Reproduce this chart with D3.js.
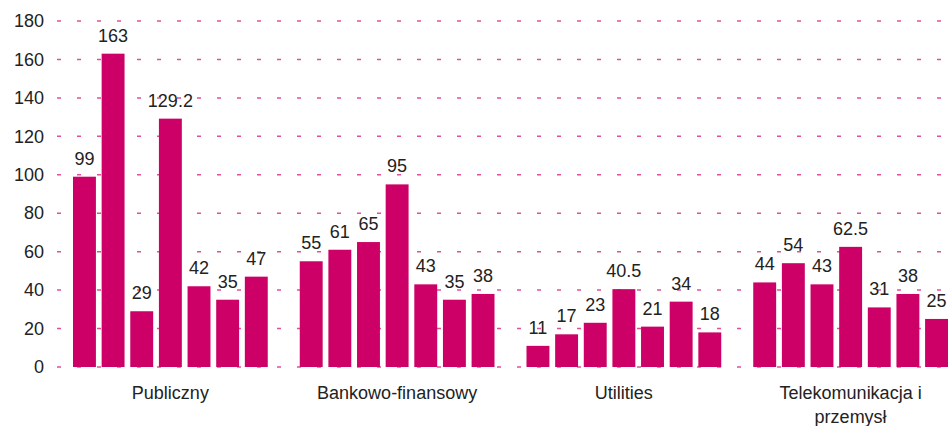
<!DOCTYPE html>
<html>
<head>
<meta charset="utf-8">
<script src="https://cdn.jsdelivr.net/npm/d3@7"></script>
<style>
  body { margin: 0; background: #fff; }
  text { font-family: "Liberation Sans", Arial, sans-serif; fill: #222; }
</style>
</head>
<body>
<div id="chart"></div>
<script>
// Categories and values
let groups = ["Publiczny", "Bankowo-finansowy", "Utilities", "Telekomunikacja i przemysł"];
let publiczny = [99, 163, 29, 129.2, 42, 35, 47];
let bankowo = [55, 61, 65, 95, 43, 35, 38];
let utilities = [11, 17, 23, 40.5, 21, 34, 18];
let telekom = [44, 54, 43, 62.5, 31, 38, 25];
let yTicks = [0, 20, 40, 60, 80, 100, 120, 140, 160, 180];

let seriesByGroup = [publiczny, bankowo, utilities, telekom];

let svgWidth = 951;
let svgHeight = 426;

let svg = d3.select("#chart")
    .append("svg")
    .attr("width", svgWidth)
    .attr("height", svgHeight);

// Scales
let x0 = d3.scaleBand()
    .domain(groups)
    .range([57, 964]);

let x1 = d3.scaleBand()
    .domain(d3.range(7))
    .range([16, x0.bandwidth() - 16])
    .paddingInner(0.2);

let y = d3.scaleLinear()
    .domain([0, 180])
    .range([367, 21]);

// Dashed gridlines
svg.append("g")
    .selectAll("line")
    .data(yTicks)
    .join("line")
    .attr("x1", 57)
    .attr("x2", svgWidth)
    .attr("y1", d => y(d))
    .attr("y2", d => y(d))
    .attr("stroke", "#e2509a")
    .attr("stroke-width", 1.5)
    .attr("stroke-dasharray", "4,16");

// Y axis labels
let leftAxis = d3.axisLeft(y).tickValues(yTicks).tickSize(0).tickPadding(0);
let yAxis = svg.append("g")
    .attr("transform", "translate(44,0)")
    .call(leftAxis);
yAxis.select(".domain").remove();
yAxis.selectAll("text")
    .style("font-family", "'Liberation Sans', Arial, sans-serif")
    .style("font-size", "18px")
    .attr("fill", "#222");

// Bars
let groupG = svg.append("g")
    .selectAll("g")
    .data(groups)
    .join("g")
    .attr("transform", d => `translate(${x0(d)},0)`);

groupG.selectAll("rect")
    .data((d, i) => seriesByGroup[i])
    .join("rect")
    .attr("x", (d, i) => x1(i))
    .attr("width", x1.bandwidth())
    .attr("y", d => y(d))
    .attr("height", d => y(0) - y(d))
    .attr("fill", "#cc0066");

// Value labels
groupG.selectAll("text.val")
    .data((d, i) => seriesByGroup[i])
    .join("text")
    .attr("class", "val")
    .attr("x", (d, i) => x1(i) + x1.bandwidth() / 2)
    .attr("y", d => y(d) - 12)
    .attr("text-anchor", "middle")
    .style("font-size", "18px")
    .text(d => d);

// Category labels (wrapped like the original)
groupG.each(function(d) {
    let t = d3.select(this).append("text")
        .attr("text-anchor", "middle")
        .style("font-size", "18px")
        .attr("y", 399);
    let cx = x0.bandwidth() / 2;
    let lines = d === "Telekomunikacja i przemysł" ? ["Telekomunikacja i", "przemysł"] : [d];
    lines.forEach((line, k) => {
        t.append("tspan")
            .attr("x", cx)
            .attr("dy", k === 0 ? 0 : 24)
            .text(line);
    });
});
</script>
</body>
</html>
